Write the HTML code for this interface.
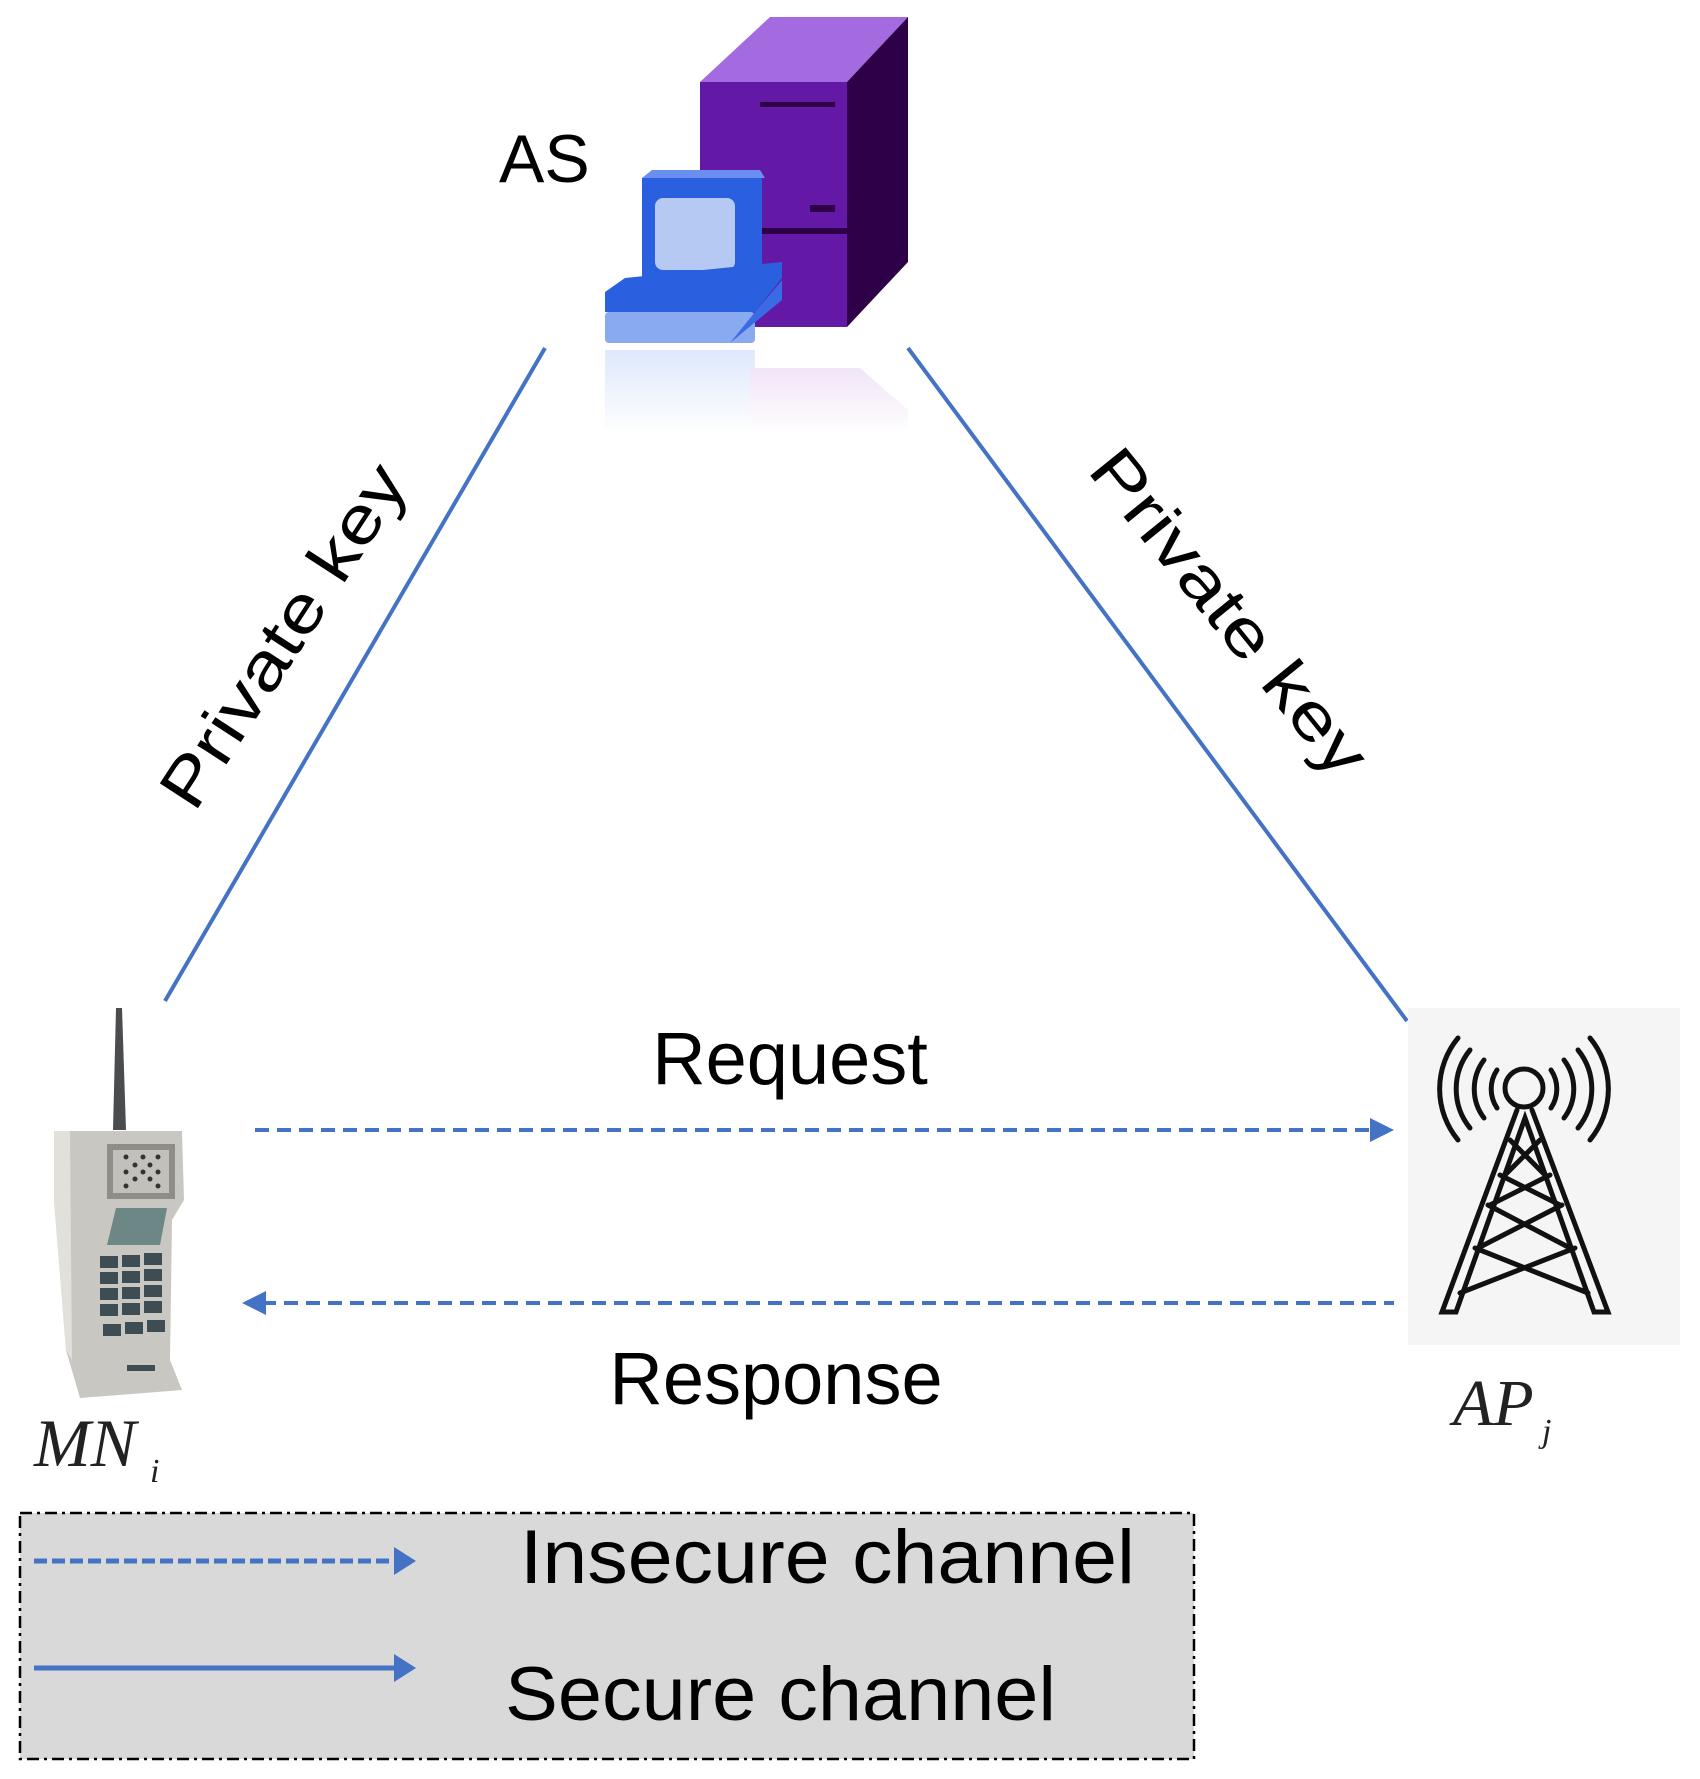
<!DOCTYPE html>
<html><head><meta charset="utf-8"><style>
html,body{margin:0;padding:0;background:#fff;}
svg{display:block;}
text{font-family:"Liberation Sans",sans-serif;fill:#000;}
.serif{font-family:"Liberation Serif",serif;font-style:italic;fill:#222;}
</style></head><body>
<svg width="1700" height="1779" viewBox="0 0 1700 1779" xmlns="http://www.w3.org/2000/svg">
<defs>
<linearGradient id="refl" x1="0" y1="0" x2="0" y2="1">
<stop offset="0" stop-color="#fff" stop-opacity="0"/><stop offset="1" stop-color="#fff" stop-opacity="1"/>
</linearGradient>
</defs>

<!-- Server -->
<polygon points="700,82 770,17 908,17 847,82" fill="#a46be0"/>
<rect x="700" y="82" width="147" height="245" fill="#6418a6"/>
<polygon points="847,82 908,17 908,262 847,327" fill="#2e0048"/>
<rect x="760" y="102" width="75" height="5" fill="#2e0048"/>
<rect x="810" y="205" width="25" height="7" fill="#2e0048"/>
<rect x="700" y="228" width="147" height="6" fill="#2e0048"/>
<!-- Monitor -->
<polygon points="642,178 652,170 760,170 765,178" fill="#6b8ff0"/>
<rect x="642" y="178" width="120" height="110" fill="#2a5fe0"/>
<rect x="655" y="198" width="80" height="72" rx="8" fill="#b6c9f3"/>
<polygon points="605,292 625,278 782,262 782,278 755,312 605,312" fill="#2a5fe0"/>
<rect x="605" y="312" width="150" height="31" rx="4" fill="#8aaaf0"/>
<polygon points="755,312 782,280 782,300 730,343" fill="#3a6be6"/>
<!-- reflection -->
<rect x="605" y="350" width="150" height="80" fill="#dde6fb"/>
<polygon points="750,368 860,368 908,410 908,430 750,430" fill="#ecdcf5"/>
<rect x="600" y="345" width="315" height="90" fill="url(#refl)"/>

<!-- AS -->
<text x="499" y="182" font-size="68">AS</text>

<!-- secure lines -->
<line x1="545" y1="348" x2="165" y2="1001" stroke="#4472c4" stroke-width="4"/>
<line x1="908" y1="348" x2="1407" y2="1021" stroke="#4472c4" stroke-width="4"/>
<text x="302" y="648" font-size="66" text-anchor="middle" textLength="395" lengthAdjust="spacingAndGlyphs" transform="rotate(-57 302 648)">Private key</text>
<text x="1212" y="626" font-size="66" text-anchor="middle" textLength="400" lengthAdjust="spacingAndGlyphs" transform="rotate(51 1212 626)">Private key</text>

<!-- request / response -->
<text x="790" y="1084" font-size="74" text-anchor="middle">Request</text>
<line x1="255" y1="1130" x2="1375" y2="1130" stroke="#4472c4" stroke-width="4" stroke-dasharray="14 8"/>
<polygon points="1394,1130 1370,1118 1370,1142" fill="#4472c4"/>
<line x1="262" y1="1303" x2="1394" y2="1303" stroke="#4472c4" stroke-width="4" stroke-dasharray="14 8"/>
<polygon points="242,1303 266,1291 266,1315" fill="#4472c4"/>
<text x="776" y="1404" font-size="74" text-anchor="middle">Response</text>

<!-- Tower -->
<rect x="1408" y="1008" width="272" height="337" fill="#f5f5f5"/>
<g fill="none" stroke="#111" stroke-width="5" stroke-linecap="round">
<circle cx="1524" cy="1088" r="19"/>
<path d="M1497,1070 A34,34 0 0 0 1497,1108"/>
<path d="M1484,1060 A48,48 0 0 0 1484,1118"/>
<path d="M1470,1050 A62,62 0 0 0 1470,1128"/>
<path d="M1458,1038 A80,80 0 0 0 1458,1140"/>
<path d="M1551,1070 A34,34 0 0 1 1551,1108"/>
<path d="M1564,1060 A48,48 0 0 1 1564,1118"/>
<path d="M1578,1050 A62,62 0 0 1 1578,1128"/>
<path d="M1590,1038 A80,80 0 0 1 1590,1140"/>
<path d="M1517,1110 L1442,1312 L1456,1312 L1525,1118 L1594,1312 L1608,1312 L1532,1110"/>
<path d="M1510,1140 L1545,1175 M1540,1140 L1505,1175 M1500,1175 L1560,1205 M1550,1175 L1490,1205 M1488,1205 L1570,1248 M1562,1205 L1478,1248 M1475,1248 L1588,1293 M1575,1248 L1460,1293"/>
</g>
<text class="serif" x="1453" y="1425" font-size="66">AP</text>
<text class="serif" x="1542" y="1442" font-size="34">j</text>

<!-- Phone -->
<polygon points="113,1130 116,1008 122,1008 126,1130" fill="#4a4c4e"/>
<polygon points="54,1131 182,1131 184,1200 172,1220 170,1360 182,1390 80,1398 66,1350 54,1200" fill="#c9c7c1"/>
<polygon points="54,1131 70,1131 72,1360 66,1350 54,1200" fill="#e2e0db"/>
<rect x="107" y="1144" width="68" height="55" fill="#8f8d87"/>
<rect x="113" y="1150" width="56" height="43" fill="#c2c0ba"/>
<g fill="#333"><circle cx="126" cy="1157" r="2.5"/><circle cx="143" cy="1157" r="2.5"/><circle cx="158" cy="1157" r="2.5"/><circle cx="135" cy="1165" r="2.5"/><circle cx="150" cy="1165" r="2.5"/><circle cx="126" cy="1172" r="2.5"/><circle cx="143" cy="1172" r="2.5"/><circle cx="158" cy="1172" r="2.5"/><circle cx="135" cy="1179" r="2.5"/><circle cx="150" cy="1179" r="2.5"/><circle cx="126" cy="1186" r="2.5"/><circle cx="158" cy="1186" r="2.5"/></g>
<polygon points="116,1208 167,1208 160,1245 107,1245" fill="#6d8787"/>
<g fill="#3e4c54">
<rect x="100" y="1256" width="18" height="12"/><rect x="122" y="1255" width="18" height="12"/><rect x="144" y="1253" width="18" height="12"/>
<rect x="100" y="1272" width="18" height="12"/><rect x="122" y="1271" width="18" height="12"/><rect x="144" y="1269" width="18" height="12"/>
<rect x="100" y="1288" width="18" height="12"/><rect x="122" y="1287" width="18" height="12"/><rect x="144" y="1285" width="18" height="12"/>
<rect x="100" y="1304" width="18" height="12"/><rect x="122" y="1303" width="18" height="12"/><rect x="144" y="1301" width="18" height="12"/>
<rect x="103" y="1324" width="18" height="12"/><rect x="125" y="1322" width="18" height="12"/><rect x="147" y="1320" width="18" height="12"/>
<rect x="127" y="1365" width="28" height="6"/>
</g>
<text class="serif" x="34" y="1466" font-size="68">MN</text>
<text class="serif" x="150" y="1482" font-size="34">i</text>

<!-- Legend -->
<rect x="20" y="1513" width="1174" height="246" fill="#d9d9d9" stroke="#000" stroke-width="2.5" stroke-dasharray="12 5 3 5"/>
<line x1="34" y1="1561" x2="395" y2="1561" stroke="#4472c4" stroke-width="5" stroke-dasharray="13 5"/>
<polygon points="416,1561 394,1547 394,1575" fill="#4472c4"/>
<line x1="34" y1="1668" x2="396" y2="1668" stroke="#4472c4" stroke-width="5"/>
<polygon points="416,1668 394,1654 394,1682" fill="#4472c4"/>
<text x="520" y="1583" font-size="76" textLength="615" lengthAdjust="spacingAndGlyphs">Insecure channel</text>
<text x="505" y="1720" font-size="76" textLength="551" lengthAdjust="spacingAndGlyphs">Secure channel</text>
</svg>
</body></html>
